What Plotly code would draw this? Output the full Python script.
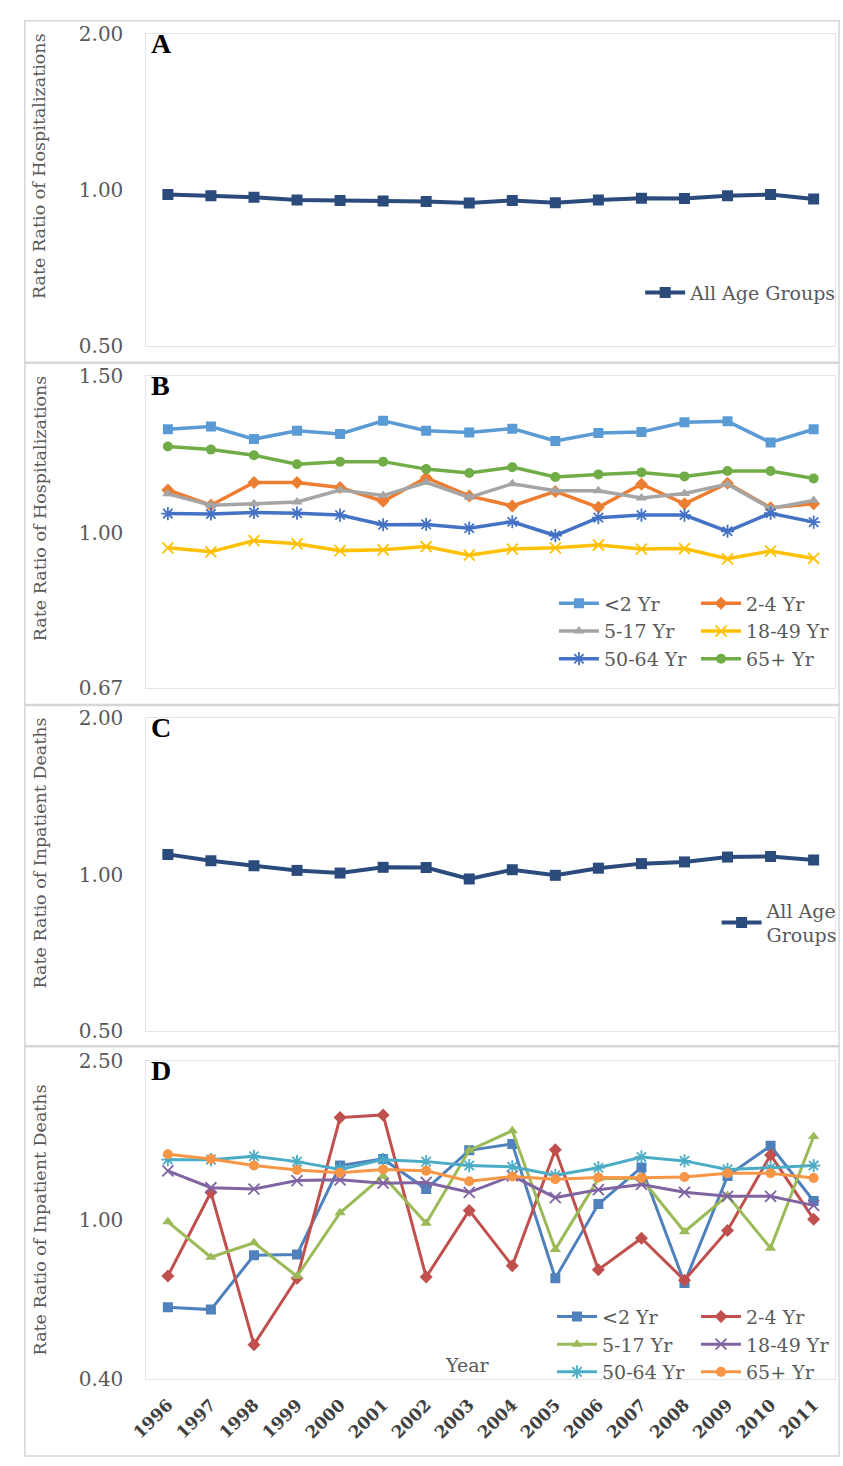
import math
import plotly.graph_objects as go

W, H = 843, 1466

years = ["1996", "1997", "1998", "1999", "2000", "2001", "2002", "2003",
         "2004", "2005", "2006", "2007", "2008", "2009", "2010", "2011"]

# Panel A: hospitalizations, all ages
hosp_all = [0.980, 0.975, 0.969, 0.957, 0.955, 0.953, 0.950, 0.944,
            0.955, 0.945, 0.957, 0.964, 0.963, 0.975, 0.980, 0.961]

# Panel B: hospitalizations by age group
hosp_lt2 = [1.307, 1.316, 1.274, 1.302, 1.291, 1.336, 1.302, 1.296,
            1.309, 1.268, 1.294, 1.298, 1.331, 1.334, 1.263, 1.307]
hosp_2_4 = [1.117, 1.074, 1.139, 1.139, 1.124, 1.085, 1.153, 1.100,
            1.072, 1.113, 1.068, 1.134, 1.078, 1.137, 1.067, 1.078]
hosp_5_17 = [1.106, 1.074, 1.078, 1.083, 1.117, 1.101, 1.139, 1.096,
             1.135, 1.115, 1.115, 1.094, 1.107, 1.134, 1.065, 1.087]
hosp_18_49 = [0.962, 0.952, 0.980, 0.972, 0.955, 0.957, 0.965, 0.944,
              0.959, 0.962, 0.969, 0.959, 0.960, 0.935, 0.954, 0.936]
hosp_50_64 = [1.051, 1.050, 1.054, 1.052, 1.047, 1.021, 1.022, 1.012,
              1.029, 0.993, 1.040, 1.047, 1.047, 1.004, 1.052, 1.028]
hosp_65 = [1.250, 1.240, 1.222, 1.194, 1.202, 1.202, 1.179, 1.167,
           1.185, 1.155, 1.163, 1.169, 1.157, 1.173, 1.173, 1.151]

# Panel C: inpatient deaths, all ages
death_all = [1.094, 1.064, 1.040, 1.019, 1.007, 1.033, 1.032, 0.981,
             1.022, 0.997, 1.029, 1.050, 1.058, 1.081, 1.084, 1.067]

# Panel D: inpatient deaths by age group
death_lt2 = [0.605, 0.597, 0.816, 0.819, 1.367, 1.420, 1.194, 1.492,
             1.548, 0.715, 1.095, 1.352, 0.696, 1.288, 1.531, 1.115]
death_2_4 = [0.724, 1.172, 0.488, 0.715, 1.801, 1.829, 0.720, 1.056,
             0.768, 1.497, 0.751, 0.900, 0.707, 0.941, 1.453, 1.004]
death_5_17 = [0.989, 0.807, 0.877, 0.723, 1.042, 1.288, 0.981, 1.492,
              1.670, 0.844, 1.268, 1.268, 0.934, 1.150, 0.850, 1.615]
death_18_49 = [1.325, 1.203, 1.194, 1.254, 1.259, 1.235, 1.240, 1.172,
               1.288, 1.137, 1.190, 1.226, 1.172, 1.145, 1.145, 1.087]
death_50_64 = [1.414, 1.414, 1.442, 1.398, 1.337, 1.414, 1.398, 1.367,
               1.357, 1.292, 1.350, 1.436, 1.404, 1.337, 1.350, 1.367]
death_65 = [1.458, 1.420, 1.367, 1.332, 1.312, 1.337, 1.327, 1.249,
            1.283, 1.263, 1.277, 1.275, 1.280, 1.307, 1.307, 1.273]

age_labels = ["<2 Yr", "2-4 Yr", "5-17 Yr", "18-49 Yr", "50-64 Yr", "65+ Yr"]

# y-axis ticks per panel (log scales with base 2, 1.5, 2, 2.5)
ticks_A = [0.50, 1.00, 2.00]
ticks_B = [0.67, 1.00, 1.50]
ticks_C = [0.50, 1.00, 2.00]
ticks_D = [0.40, 1.00, 2.50]

SERIF = "DejaVu Serif"
GRAY = "#595959"
NAVY = "#2A4B7C"
colors_B = ["#5B9BD5", "#ED7D31", "#A5A5A5", "#FFC000", "#4472C4", "#70AD47"]
colors_D = ["#4F81BD", "#C0504D", "#9BBB59", "#8064A2", "#4BACC6", "#F79646"]
symbols = ["square", "diamond", "triangle-up", "x-thin-open", "asterisk-open", "circle"]


def px_x(x):
    return x / W


def px_y(y):
    return 1 - y / H


# plot-area pixel boxes (left, top, right, bottom)
panels = {
    1: (132, 22, 835, 340),
    2: (132, 370, 835, 687),
    3: (132, 718, 835, 1036),
    4: (132, 1066, 835, 1390),
}

fig = go.Figure()


def marker_for(sym, color, size):
    if sym.endswith("-open"):
        return dict(symbol=sym, size=size + 1, color=color,
                    line=dict(width=1.8, color=color))
    return dict(symbol=sym, size=size, color=color, line=dict(width=0))


# Panel A
fig.add_trace(go.Scatter(
    x=years, y=hosp_all, name="All Age Groups", mode="lines+markers",
    line=dict(color=NAVY, width=4), marker=marker_for("square", NAVY, 11),
    xaxis="x", yaxis="y", legend="legend"))

# Panel B
hosp_series = [hosp_lt2, hosp_2_4, hosp_5_17, hosp_18_49, hosp_50_64, hosp_65]
for i, (lab, vals) in enumerate(zip(age_labels, hosp_series)):
    fig.add_trace(go.Scatter(
        x=years, y=vals, name=lab, mode="lines+markers",
        line=dict(color=colors_B[i], width=3.5),
        marker=marker_for(symbols[i], colors_B[i], 10),
        xaxis="x2", yaxis="y2", legend="legend2" if i % 2 == 0 else "legend3"))

# Panel C
fig.add_trace(go.Scatter(
    x=years, y=death_all, name="All Age<br>Groups", mode="lines+markers",
    line=dict(color=NAVY, width=4), marker=marker_for("square", NAVY, 11),
    xaxis="x3", yaxis="y3", legend="legend4"))

# Panel D
death_series = [death_lt2, death_2_4, death_5_17, death_18_49, death_50_64, death_65]
for i, (lab, vals) in enumerate(zip(age_labels, death_series)):
    fig.add_trace(go.Scatter(
        x=years, y=vals, name=lab, mode="lines+markers",
        line=dict(color=colors_D[i], width=3),
        marker=marker_for(symbols[i], colors_D[i], 10),
        xaxis="x4", yaxis="y4", legend="legend5" if i % 2 == 0 else "legend6"))

layout = dict(
    width=W, height=H, margin=dict(l=0, r=0, t=0, b=0),
    paper_bgcolor="white", plot_bgcolor="white",
    font=dict(family=SERIF, color=GRAY),
    showlegend=True,
)

tick_sets = {1: ticks_A, 2: ticks_B, 3: ticks_C, 4: ticks_D}
for k, (l, t, r, b) in panels.items():
    sx = "" if k == 1 else str(k)
    tv = tick_sets[k]
    layout["xaxis" + sx] = dict(
        domain=[px_x(l), px_x(r)], anchor="y" + sx, type="category",
        categoryorder="array", categoryarray=years,
        range=[-0.5, len(years) - 0.5],
        showgrid=False, zeroline=False, showline=True, mirror=True,
        linecolor="#E4E4E4", linewidth=1, ticks="",
        showticklabels=(k == 4), tickangle=-45, ticklabelstandoff=8,
        tickfont=dict(family=SERIF, size=17, color="#404040", weight="bold"),
    )
    layout["yaxis" + sx] = dict(
        domain=[px_y(b), px_y(t)], anchor="x" + sx, type="log",
        range=[math.log10(tv[0]), math.log10(tv[-1])],
        tickvals=tv, ticktext=["%.2f" % v for v in tv],
        showgrid=False, zeroline=False, showline=True, mirror=True,
        linecolor="#E4E4E4", linewidth=1, ticks="",
        ticklabelstandoff=18,
        tickfont=dict(family=SERIF, size=20, color=GRAY),
    )

leg_common = dict(bgcolor="rgba(0,0,0,0)", borderwidth=0,
                  font=dict(family=SERIF, size=19, color=GRAY),
                  itemwidth=40, tracegroupgap=0, orientation="v",
                  xanchor="left", yanchor="top", itemclick=False)

layout["legend"] = dict(leg_common, x=px_x(636), y=px_y(266))
layout["legend2"] = dict(leg_common, x=px_x(548), y=px_y(582))
layout["legend3"] = dict(leg_common, x=px_x(693), y=px_y(582))
layout["legend4"] = dict(leg_common, x=px_x(714), y=px_y(894))
layout["legend5"] = dict(leg_common, x=px_x(546), y=px_y(1307))
layout["legend6"] = dict(leg_common, x=px_x(693), y=px_y(1307))

fig.update_layout(**layout)

# outer panel frames
frames = [(8, 9, 839, 356), (8, 357, 839, 704), (8, 705, 839, 1051), (8, 1052, 839, 1468)]
for (l, t, r, b) in frames:
    fig.add_shape(type="rect", xref="paper", yref="paper",
                  x0=px_x(l), x1=px_x(r), y0=px_y(b), y1=px_y(t),
                  line=dict(color="#D6D6D6", width=1.5), layer="below")

# panel letters
letters = [("A", 22), ("B", 370), ("C", 718), ("D", 1066)]
for txt, top in letters:
    fig.add_annotation(text="<b>%s</b>" % txt, xref="paper", yref="paper",
                       x=px_x(135), y=px_y(top - 8), xanchor="left", yanchor="top",
                       showarrow=False,
                       font=dict(family="Liberation Serif", size=28, color="black"))

# y-axis titles
ytitles = [("Rate Ratio of Hospitalizations", 157),
           ("Rate Ratio of Hospitalizations", 505),
           ("Rate Ratio of Inpatient Deaths", 855),
           ("Rate Ratio of Inpatient Deaths", 1228)]
for txt, cy in ytitles:
    fig.add_annotation(text=txt, xref="paper", yref="paper",
                       x=px_x(23), y=px_y(cy), xanchor="center", yanchor="middle",
                       textangle=-90, showarrow=False,
                       font=dict(family=SERIF, size=17.5, color=GRAY))

# x-axis title inside panel D
fig.add_annotation(text="Year", xref="paper", yref="paper",
                   x=px_x(459), y=px_y(1376), xanchor="center", yanchor="middle",
                   showarrow=False, font=dict(family=SERIF, size=19, color=GRAY))

fig.write_html("out.html")
